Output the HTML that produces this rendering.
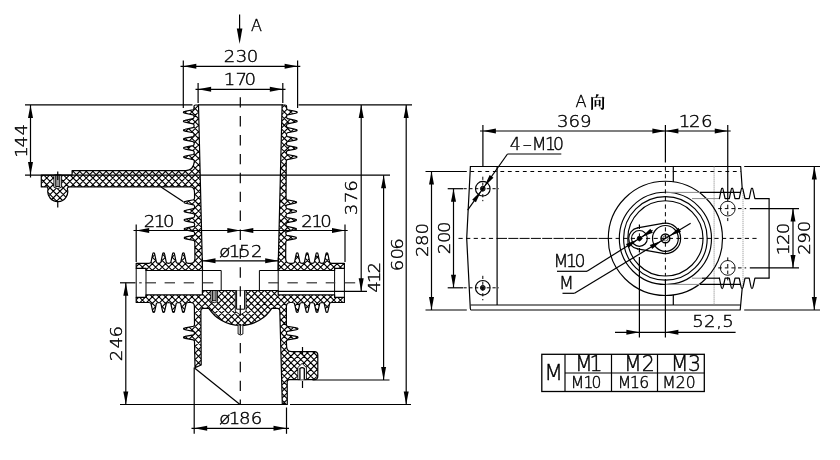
<!DOCTYPE html>
<html lang="zh">
<head>
<meta charset="utf-8">
<title>A向 - 230 / 170 / 606</title>
<style>
html,body{margin:0;padding:0;background:#fff;}
body{width:840px;height:460px;overflow:hidden;}
svg{display:block;will-change:transform;}
svg text{font-family:"DejaVu Sans","Liberation Sans","Noto Sans CJK SC",sans-serif;font-weight:200;fill:#000;stroke:#000;stroke-width:0.4px;}
svg .cjk{font-family:"Liberation Serif","Noto Serif CJK SC","Noto Sans CJK SC",serif;font-weight:700;stroke:none;}
</style>
</head>
<body>
<svg width="840" height="460" viewBox="0 0 840 460">
<rect x="0" y="0" width="840" height="460" fill="#fff"/>
<defs>
<clipPath id="cp0"><path d="M198.5,105 L202.52,270.5 L146,270.5 L146,268.3 L136.2,268.3 L136.2,263.3 L148.75,263.3 Q150.5,263.2 151,262.3 L152.6,254.5 Q152.71,252.9 153.7,252.9 Q154.69,252.9 154.8,254.5 L156.4,262.3 Q156.9,263.2 158.65,263.3 L158.65,263.3 Q160.4,263.2 160.9,262.3 L162.5,254.5 Q162.61,252.9 163.6,252.9 Q164.59,252.9 164.7,254.5 L166.3,262.3 Q166.8,263.2 168.55,263.3 L168.55,263.3 Q170.3,263.2 170.8,262.3 L172.4,254.5 Q172.51,252.9 173.5,252.9 Q174.49,252.9 174.6,254.5 L176.2,262.3 Q176.7,263.2 178.45,263.3 L178.45,263.3 Q180.2,263.2 180.7,262.3 L182.3,254.5 Q182.41,252.9 183.4,252.9 Q184.39,252.9 184.5,254.5 L186.1,262.3 Q186.6,263.2 188.35,263.3 L190.5,263.3 Q194.93,263.3 194.92,258.5 L194.82,242.4 Q194.72,240.95 193.81,240.45 L185.8,238.85 Q184.2,238.75 184.2,237.9 Q184.19,237.05 185.79,236.95 L193.78,235.35 Q194.68,234.85 194.77,233.4 L194.77,233.5 Q194.66,232.05 193.76,231.55 L185.75,229.95 Q184.15,229.85 184.14,229 Q184.14,228.15 185.74,228.05 L193.73,226.45 Q194.63,225.95 194.72,224.5 L194.72,224.6 Q194.61,223.15 193.71,222.65 L185.7,221.05 Q184.1,220.95 184.09,220.1 Q184.09,219.25 185.68,219.15 L193.68,217.55 Q194.57,217.05 194.66,215.6 L194.66,215.7 Q194.56,214.25 193.65,213.75 L185.64,212.15 Q184.04,212.05 184.04,211.2 Q184.03,210.34 185.63,210.25 L193.62,208.65 Q194.52,208.15 194.61,206.7 L194.61,206.8 Q194.5,205.35 193.6,204.85 L185.59,203.25 Q183.99,203.16 183.98,202.3 Q183.98,201.45 185.58,201.35 L193.57,199.75 Q194.47,199.25 194.56,197.8 L194.54,193 Q194.51,186.9 190.8,186.9 L69.5,186.9 Q67.6,186.9 67.3,188.6 A10,10 0 1 1 48,189.4 L47.5,186.9 L41.3,186.9 L41.3,175.1 L72.1,175.1 L72.1,170.6 L186,170.6 Q193.4,170.2 194.34,161.6 L194.34,161.55 Q194.23,160.1 193.33,159.6 L185.22,158 Q183.62,157.91 183.61,157.05 Q183.61,156.2 185.21,156.1 L193.3,154.5 Q194.19,154 194.29,152.55 L194.29,152.6 Q194.18,151.15 193.27,150.65 L185.16,149.05 Q183.56,148.95 183.56,148.1 Q183.55,147.25 185.15,147.15 L193.24,145.55 Q194.14,145.05 194.23,143.6 L194.23,143.65 Q194.12,142.2 193.22,141.7 L185.11,140.1 Q183.51,140 183.5,139.15 Q183.5,138.3 185.1,138.2 L193.19,136.6 Q194.09,136.1 194.18,134.65 L194.18,134.7 Q194.07,133.25 193.17,132.75 L185.06,131.15 Q183.46,131.05 183.45,130.2 Q183.45,129.34 185.05,129.25 L193.14,127.65 Q194.03,127.15 194.12,125.7 L194.12,125.75 Q194.02,124.3 193.11,123.8 L185,122.2 Q183.4,122.11 183.4,121.25 Q183.39,120.39 184.99,120.3 L193.08,118.7 Q193.98,118.2 194.07,116.75 L194.07,116.8 Q193.96,115.35 193.06,114.85 L184.95,113.25 Q183.35,113.16 183.34,112.3 Q183.34,111.44 184.94,111.35 L193.03,109.75 Q193.93,109.25 194.02,107.8 L194.01,106.8 Q194,105 195.6,105 Z"/></clipPath>
<clipPath id="cp1"><path d="M282.1,105 L278.08,270.5 L334.6,270.5 L334.6,268.3 L344.4,268.3 L344.4,263.3 L331.85,263.3 Q330.1,263.2 329.6,262.3 L328,254.5 Q327.89,252.9 326.9,252.9 Q325.91,252.9 325.8,254.5 L324.2,262.3 Q323.7,263.2 321.95,263.3 L321.95,263.3 Q320.2,263.2 319.7,262.3 L318.1,254.5 Q317.99,252.9 317,252.9 Q316.01,252.9 315.9,254.5 L314.3,262.3 Q313.8,263.2 312.05,263.3 L312.05,263.3 Q310.3,263.2 309.8,262.3 L308.2,254.5 Q308.09,252.9 307.1,252.9 Q306.11,252.9 306,254.5 L304.4,262.3 Q303.9,263.2 302.15,263.3 L302.15,263.3 Q300.4,263.2 299.9,262.3 L298.3,254.5 Q298.19,252.9 297.2,252.9 Q296.21,252.9 296.1,254.5 L294.5,262.3 Q294,263.2 292.25,263.3 L290.1,263.3 Q285.67,263.3 285.68,258.5 L285.78,242.4 Q285.88,240.95 286.79,240.45 L294.8,238.85 Q296.4,238.75 296.4,237.9 Q296.41,237.05 294.81,236.95 L286.82,235.35 Q285.92,234.85 285.83,233.4 L285.83,233.5 Q285.94,232.05 286.84,231.55 L294.85,229.95 Q296.45,229.85 296.46,229 Q296.46,228.15 294.86,228.05 L286.87,226.45 Q285.97,225.95 285.88,224.5 L285.88,224.6 Q285.99,223.15 286.89,222.65 L294.9,221.05 Q296.5,220.95 296.51,220.1 Q296.51,219.25 294.92,219.15 L286.92,217.55 Q286.03,217.05 285.94,215.6 L285.94,215.7 Q286.04,214.25 286.95,213.75 L294.96,212.15 Q296.56,212.05 296.56,211.2 Q296.57,210.34 294.97,210.25 L286.98,208.65 Q286.08,208.15 285.99,206.7 L285.99,206.8 Q286.1,205.35 287,204.85 L295.01,203.25 Q296.61,203.16 296.62,202.3 Q296.62,201.45 295.02,201.35 L287.03,199.75 Q286.13,199.25 286.04,197.8 L286.15,180 L286.26,161.6 L286.26,161.55 Q286.37,160.1 287.27,159.6 L295.38,158 Q296.98,157.91 296.99,157.05 Q296.99,156.2 295.39,156.1 L287.3,154.5 Q286.41,154 286.31,152.55 L286.31,152.6 Q286.42,151.15 287.33,150.65 L295.44,149.05 Q297.04,148.95 297.04,148.1 Q297.05,147.25 295.45,147.15 L287.36,145.55 Q286.46,145.05 286.37,143.6 L286.37,143.65 Q286.48,142.2 287.38,141.7 L295.49,140.1 Q297.09,140 297.1,139.15 Q297.1,138.3 295.5,138.2 L287.41,136.6 Q286.51,136.1 286.42,134.65 L286.42,134.7 Q286.53,133.25 287.43,132.75 L295.54,131.15 Q297.14,131.05 297.15,130.2 Q297.15,129.34 295.55,129.25 L287.46,127.65 Q286.57,127.15 286.48,125.7 L286.48,125.75 Q286.58,124.3 287.49,123.8 L295.6,122.2 Q297.2,122.11 297.2,121.25 Q297.21,120.39 295.61,120.3 L287.52,118.7 Q286.62,118.2 286.53,116.75 L286.53,116.8 Q286.64,115.35 287.54,114.85 L295.65,113.25 Q297.25,113.16 297.26,112.3 Q297.26,111.44 295.66,111.35 L287.57,109.75 Q286.67,109.25 286.58,107.8 L286.59,106.8 Q286.6,105 285,105 Z"/></clipPath>
<clipPath id="cp2"><path d="M136.2,302.5 L136.2,297.4 L146,297.4 L146,294.9 L202.4,294.9 L202.4,290.5 L278.2,290.5 L278.2,294.9 L334.6,294.9 L334.6,297.4 L344.4,297.4 L344.4,302.5 L331.85,302.5 Q330.1,302.6 329.6,303.5 L328,310.9 Q327.89,312.5 326.9,312.5 Q325.91,312.5 325.8,310.9 L324.2,303.5 Q323.7,302.6 321.95,302.5 L321.95,302.5 Q320.2,302.6 319.7,303.5 L318.1,310.9 Q317.99,312.5 317,312.5 Q316.01,312.5 315.9,310.9 L314.3,303.5 Q313.8,302.6 312.05,302.5 L312.05,302.5 Q310.3,302.6 309.8,303.5 L308.2,310.9 Q308.09,312.5 307.1,312.5 Q306.11,312.5 306,310.9 L304.4,303.5 Q303.9,302.6 302.15,302.5 L302.15,302.5 Q300.4,302.6 299.9,303.5 L298.3,310.9 Q298.19,312.5 297.2,312.5 Q296.21,312.5 296.1,310.9 L294.5,303.5 Q294,302.6 292.25,302.5 L290.5,302.5 Q286.4,302.5 286.4,306.5 L286.4,324.5 Q286.5,325.75 287.4,326.25 L296.4,327.85 Q298,327.94 298,328.8 Q298,329.66 296.4,329.75 L287.4,331.35 Q286.5,331.85 286.4,333.1 L286.4,333.1 Q286.5,334.35 287.4,334.85 L296.4,336.45 Q298,336.54 298,337.4 Q298,338.25 296.4,338.35 L287.4,339.95 Q286.5,340.45 286.4,341.7 L286.6,346.5 Q286.8,351.6 291.8,351.6 L314.3,351.6 Q317.8,351.6 317.8,355.1 L317.8,376.2 Q317.8,379.6 314.3,379.6 L289.5,379.6 Q287.2,379.7 287.2,382 L287.3,404.5 L282.3,404.5 L279.8,310.8 Q279.7,308.4 277.5,308.4 L271.8,308.3 A37.5,37.5 0 0 1 208.8,308.3 L203.1,308.4 Q200.9,308.4 200.9,310.8 L201.2,365 L195,367.6 L194.5,341.7 Q194.4,340.45 193.5,339.95 L185.1,338.35 Q183.5,338.25 183.5,337.4 Q183.5,336.54 185.1,336.45 L193.5,334.85 Q194.4,334.35 194.5,333.1 L194.5,333.1 Q194.4,331.85 193.5,331.35 L185.1,329.75 Q183.5,329.66 183.5,328.8 Q183.5,327.94 185.1,327.85 L193.5,326.25 Q194.4,325.75 194.5,324.5 L194.4,306.5 Q194.4,302.5 190.5,302.5 L188.35,302.5 Q186.6,302.6 186.1,303.5 L184.5,310.9 Q184.39,312.5 183.4,312.5 Q182.41,312.5 182.3,310.9 L180.7,303.5 Q180.2,302.6 178.45,302.5 L178.45,302.5 Q176.7,302.6 176.2,303.5 L174.6,310.9 Q174.49,312.5 173.5,312.5 Q172.51,312.5 172.4,310.9 L170.8,303.5 Q170.3,302.6 168.55,302.5 L168.55,302.5 Q166.8,302.6 166.3,303.5 L164.7,310.9 Q164.59,312.5 163.6,312.5 Q162.61,312.5 162.5,310.9 L160.9,303.5 Q160.4,302.6 158.65,302.5 L158.65,302.5 Q156.9,302.6 156.4,303.5 L154.8,310.9 Q154.69,312.5 153.7,312.5 Q152.71,312.5 152.6,310.9 L151,303.5 Q150.5,302.6 148.75,302.5 L136.2,302.5 Z"/></clipPath>
</defs>
<g id="section">
<path d="M38,-81.5 L206,86.5 M38,-74.9 L206,93.1 M38,-68.3 L206,99.7 M38,-61.7 L206,106.3 M38,-55.1 L206,112.9 M38,-48.5 L206,119.5 M38,-41.9 L206,126.1 M38,-35.3 L206,132.7 M38,-28.7 L206,139.3 M38,-22.1 L206,145.9 M38,-15.5 L206,152.5 M38,-8.9 L206,159.1 M38,-2.3 L206,165.7 M38,4.3 L206,172.3 M38,10.9 L206,178.9 M38,17.5 L206,185.5 M38,24.1 L206,192.1 M38,30.7 L206,198.7 M38,37.3 L206,205.3 M38,43.9 L206,211.9 M38,50.5 L206,218.5 M38,57.1 L206,225.1 M38,63.7 L206,231.7 M38,70.3 L206,238.3 M38,76.9 L206,244.9 M38,83.5 L206,251.5 M38,90.1 L206,258.1 M38,96.7 L206,264.7 M38,103.3 L206,271.3 M38,109.9 L206,277.9 M38,116.5 L206,284.5 M38,123.1 L206,291.1 M38,129.7 L206,297.7 M38,136.3 L206,304.3 M38,142.9 L206,310.9 M38,149.5 L206,317.5 M38,156.1 L206,324.1 M38,162.7 L206,330.7 M38,169.3 L206,337.3 M38,175.9 L206,343.9 M38,182.5 L206,350.5 M38,189.1 L206,357.1 M38,195.7 L206,363.7 M38,202.3 L206,370.3 M38,208.9 L206,376.9 M38,215.5 L206,383.5 M38,222.1 L206,390.1 M38,228.7 L206,396.7 M38,235.3 L206,403.3 M38,241.9 L206,409.9 M38,248.5 L206,416.5 M38,255.1 L206,423.1 M38,261.7 L206,429.7 M38,268.3 L206,436.3 M38,274.9 L206,442.9 M38,281.5 L206,449.5 M38,87.7 L206,-80.3 M38,94.3 L206,-73.7 M38,100.9 L206,-67.1 M38,107.5 L206,-60.5 M38,114.1 L206,-53.9 M38,120.7 L206,-47.3 M38,127.3 L206,-40.7 M38,133.9 L206,-34.1 M38,140.5 L206,-27.5 M38,147.1 L206,-20.9 M38,153.7 L206,-14.3 M38,160.3 L206,-7.7 M38,166.9 L206,-1.1 M38,173.5 L206,5.5 M38,180.1 L206,12.1 M38,186.7 L206,18.7 M38,193.3 L206,25.3 M38,199.9 L206,31.9 M38,206.5 L206,38.5 M38,213.1 L206,45.1 M38,219.7 L206,51.7 M38,226.3 L206,58.3 M38,232.9 L206,64.9 M38,239.5 L206,71.5 M38,246.1 L206,78.1 M38,252.7 L206,84.7 M38,259.3 L206,91.3 M38,265.9 L206,97.9 M38,272.5 L206,104.5 M38,279.1 L206,111.1 M38,285.7 L206,117.7 M38,292.3 L206,124.3 M38,298.9 L206,130.9 M38,305.5 L206,137.5 M38,312.1 L206,144.1 M38,318.7 L206,150.7 M38,325.3 L206,157.3 M38,331.9 L206,163.9 M38,338.5 L206,170.5 M38,345.1 L206,177.1 M38,351.7 L206,183.7 M38,358.3 L206,190.3 M38,364.9 L206,196.9 M38,371.5 L206,203.5 M38,378.1 L206,210.1 M38,384.7 L206,216.7 M38,391.3 L206,223.3 M38,397.9 L206,229.9 M38,404.5 L206,236.5 M38,411.1 L206,243.1 M38,417.7 L206,249.7 M38,424.3 L206,256.3 M38,430.9 L206,262.9 M38,437.5 L206,269.5 M38,444.1 L206,276.1 M38,450.7 L206,282.7" clip-path="url(#cp0)" fill="none" stroke="#000" stroke-width="1.1"/>
<path d="M198.5,105 L202.52,270.5 L146,270.5 L146,268.3 L136.2,268.3 L136.2,263.3 L148.75,263.3 Q150.5,263.2 151,262.3 L152.6,254.5 Q152.71,252.9 153.7,252.9 Q154.69,252.9 154.8,254.5 L156.4,262.3 Q156.9,263.2 158.65,263.3 L158.65,263.3 Q160.4,263.2 160.9,262.3 L162.5,254.5 Q162.61,252.9 163.6,252.9 Q164.59,252.9 164.7,254.5 L166.3,262.3 Q166.8,263.2 168.55,263.3 L168.55,263.3 Q170.3,263.2 170.8,262.3 L172.4,254.5 Q172.51,252.9 173.5,252.9 Q174.49,252.9 174.6,254.5 L176.2,262.3 Q176.7,263.2 178.45,263.3 L178.45,263.3 Q180.2,263.2 180.7,262.3 L182.3,254.5 Q182.41,252.9 183.4,252.9 Q184.39,252.9 184.5,254.5 L186.1,262.3 Q186.6,263.2 188.35,263.3 L190.5,263.3 Q194.93,263.3 194.92,258.5 L194.82,242.4 Q194.72,240.95 193.81,240.45 L185.8,238.85 Q184.2,238.75 184.2,237.9 Q184.19,237.05 185.79,236.95 L193.78,235.35 Q194.68,234.85 194.77,233.4 L194.77,233.5 Q194.66,232.05 193.76,231.55 L185.75,229.95 Q184.15,229.85 184.14,229 Q184.14,228.15 185.74,228.05 L193.73,226.45 Q194.63,225.95 194.72,224.5 L194.72,224.6 Q194.61,223.15 193.71,222.65 L185.7,221.05 Q184.1,220.95 184.09,220.1 Q184.09,219.25 185.68,219.15 L193.68,217.55 Q194.57,217.05 194.66,215.6 L194.66,215.7 Q194.56,214.25 193.65,213.75 L185.64,212.15 Q184.04,212.05 184.04,211.2 Q184.03,210.34 185.63,210.25 L193.62,208.65 Q194.52,208.15 194.61,206.7 L194.61,206.8 Q194.5,205.35 193.6,204.85 L185.59,203.25 Q183.99,203.16 183.98,202.3 Q183.98,201.45 185.58,201.35 L193.57,199.75 Q194.47,199.25 194.56,197.8 L194.54,193 Q194.51,186.9 190.8,186.9 L69.5,186.9 Q67.6,186.9 67.3,188.6 A10,10 0 1 1 48,189.4 L47.5,186.9 L41.3,186.9 L41.3,175.1 L72.1,175.1 L72.1,170.6 L186,170.6 Q193.4,170.2 194.34,161.6 L194.34,161.55 Q194.23,160.1 193.33,159.6 L185.22,158 Q183.62,157.91 183.61,157.05 Q183.61,156.2 185.21,156.1 L193.3,154.5 Q194.19,154 194.29,152.55 L194.29,152.6 Q194.18,151.15 193.27,150.65 L185.16,149.05 Q183.56,148.95 183.56,148.1 Q183.55,147.25 185.15,147.15 L193.24,145.55 Q194.14,145.05 194.23,143.6 L194.23,143.65 Q194.12,142.2 193.22,141.7 L185.11,140.1 Q183.51,140 183.5,139.15 Q183.5,138.3 185.1,138.2 L193.19,136.6 Q194.09,136.1 194.18,134.65 L194.18,134.7 Q194.07,133.25 193.17,132.75 L185.06,131.15 Q183.46,131.05 183.45,130.2 Q183.45,129.34 185.05,129.25 L193.14,127.65 Q194.03,127.15 194.12,125.7 L194.12,125.75 Q194.02,124.3 193.11,123.8 L185,122.2 Q183.4,122.11 183.4,121.25 Q183.39,120.39 184.99,120.3 L193.08,118.7 Q193.98,118.2 194.07,116.75 L194.07,116.8 Q193.96,115.35 193.06,114.85 L184.95,113.25 Q183.35,113.16 183.34,112.3 Q183.34,111.44 184.94,111.35 L193.03,109.75 Q193.93,109.25 194.02,107.8 L194.01,106.8 Q194,105 195.6,105 Z" fill="none" stroke="#000" stroke-width="1.2" stroke-linejoin="round"/>
<path d="M274,15.9 L348,89.9 M274,22.5 L348,96.5 M274,29.1 L348,103.1 M274,35.7 L348,109.7 M274,42.3 L348,116.3 M274,48.9 L348,122.9 M274,55.5 L348,129.5 M274,62.1 L348,136.1 M274,68.7 L348,142.7 M274,75.3 L348,149.3 M274,81.9 L348,155.9 M274,88.5 L348,162.5 M274,95.1 L348,169.1 M274,101.7 L348,175.7 M274,108.3 L348,182.3 M274,114.9 L348,188.9 M274,121.5 L348,195.5 M274,128.1 L348,202.1 M274,134.7 L348,208.7 M274,141.3 L348,215.3 M274,147.9 L348,221.9 M274,154.5 L348,228.5 M274,161.1 L348,235.1 M274,167.7 L348,241.7 M274,174.3 L348,248.3 M274,180.9 L348,254.9 M274,187.5 L348,261.5 M274,194.1 L348,268.1 M274,200.7 L348,274.7 M274,207.3 L348,281.3 M274,213.9 L348,287.9 M274,220.5 L348,294.5 M274,227.1 L348,301.1 M274,233.7 L348,307.7 M274,240.3 L348,314.3 M274,246.9 L348,320.9 M274,253.5 L348,327.5 M274,260.1 L348,334.1 M274,266.7 L348,340.7 M274,273.3 L348,347.3 M274,279.9 L348,353.9 M274,286.5 L348,360.5 M274,89.3 L348,15.3 M274,95.9 L348,21.9 M274,102.5 L348,28.5 M274,109.1 L348,35.1 M274,115.7 L348,41.7 M274,122.3 L348,48.3 M274,128.9 L348,54.9 M274,135.5 L348,61.5 M274,142.1 L348,68.1 M274,148.7 L348,74.7 M274,155.3 L348,81.3 M274,161.9 L348,87.9 M274,168.5 L348,94.5 M274,175.1 L348,101.1 M274,181.7 L348,107.7 M274,188.3 L348,114.3 M274,194.9 L348,120.9 M274,201.5 L348,127.5 M274,208.1 L348,134.1 M274,214.7 L348,140.7 M274,221.3 L348,147.3 M274,227.9 L348,153.9 M274,234.5 L348,160.5 M274,241.1 L348,167.1 M274,247.7 L348,173.7 M274,254.3 L348,180.3 M274,260.9 L348,186.9 M274,267.5 L348,193.5 M274,274.1 L348,200.1 M274,280.7 L348,206.7 M274,287.3 L348,213.3 M274,293.9 L348,219.9 M274,300.5 L348,226.5 M274,307.1 L348,233.1 M274,313.7 L348,239.7 M274,320.3 L348,246.3 M274,326.9 L348,252.9 M274,333.5 L348,259.5 M274,340.1 L348,266.1 M274,346.7 L348,272.7 M274,353.3 L348,279.3 M274,359.9 L348,285.9" clip-path="url(#cp1)" fill="none" stroke="#000" stroke-width="1.1"/>
<path d="M282.1,105 L278.08,270.5 L334.6,270.5 L334.6,268.3 L344.4,268.3 L344.4,263.3 L331.85,263.3 Q330.1,263.2 329.6,262.3 L328,254.5 Q327.89,252.9 326.9,252.9 Q325.91,252.9 325.8,254.5 L324.2,262.3 Q323.7,263.2 321.95,263.3 L321.95,263.3 Q320.2,263.2 319.7,262.3 L318.1,254.5 Q317.99,252.9 317,252.9 Q316.01,252.9 315.9,254.5 L314.3,262.3 Q313.8,263.2 312.05,263.3 L312.05,263.3 Q310.3,263.2 309.8,262.3 L308.2,254.5 Q308.09,252.9 307.1,252.9 Q306.11,252.9 306,254.5 L304.4,262.3 Q303.9,263.2 302.15,263.3 L302.15,263.3 Q300.4,263.2 299.9,262.3 L298.3,254.5 Q298.19,252.9 297.2,252.9 Q296.21,252.9 296.1,254.5 L294.5,262.3 Q294,263.2 292.25,263.3 L290.1,263.3 Q285.67,263.3 285.68,258.5 L285.78,242.4 Q285.88,240.95 286.79,240.45 L294.8,238.85 Q296.4,238.75 296.4,237.9 Q296.41,237.05 294.81,236.95 L286.82,235.35 Q285.92,234.85 285.83,233.4 L285.83,233.5 Q285.94,232.05 286.84,231.55 L294.85,229.95 Q296.45,229.85 296.46,229 Q296.46,228.15 294.86,228.05 L286.87,226.45 Q285.97,225.95 285.88,224.5 L285.88,224.6 Q285.99,223.15 286.89,222.65 L294.9,221.05 Q296.5,220.95 296.51,220.1 Q296.51,219.25 294.92,219.15 L286.92,217.55 Q286.03,217.05 285.94,215.6 L285.94,215.7 Q286.04,214.25 286.95,213.75 L294.96,212.15 Q296.56,212.05 296.56,211.2 Q296.57,210.34 294.97,210.25 L286.98,208.65 Q286.08,208.15 285.99,206.7 L285.99,206.8 Q286.1,205.35 287,204.85 L295.01,203.25 Q296.61,203.16 296.62,202.3 Q296.62,201.45 295.02,201.35 L287.03,199.75 Q286.13,199.25 286.04,197.8 L286.15,180 L286.26,161.6 L286.26,161.55 Q286.37,160.1 287.27,159.6 L295.38,158 Q296.98,157.91 296.99,157.05 Q296.99,156.2 295.39,156.1 L287.3,154.5 Q286.41,154 286.31,152.55 L286.31,152.6 Q286.42,151.15 287.33,150.65 L295.44,149.05 Q297.04,148.95 297.04,148.1 Q297.05,147.25 295.45,147.15 L287.36,145.55 Q286.46,145.05 286.37,143.6 L286.37,143.65 Q286.48,142.2 287.38,141.7 L295.49,140.1 Q297.09,140 297.1,139.15 Q297.1,138.3 295.5,138.2 L287.41,136.6 Q286.51,136.1 286.42,134.65 L286.42,134.7 Q286.53,133.25 287.43,132.75 L295.54,131.15 Q297.14,131.05 297.15,130.2 Q297.15,129.34 295.55,129.25 L287.46,127.65 Q286.57,127.15 286.48,125.7 L286.48,125.75 Q286.58,124.3 287.49,123.8 L295.6,122.2 Q297.2,122.11 297.2,121.25 Q297.21,120.39 295.61,120.3 L287.52,118.7 Q286.62,118.2 286.53,116.75 L286.53,116.8 Q286.64,115.35 287.54,114.85 L295.65,113.25 Q297.25,113.16 297.26,112.3 Q297.26,111.44 295.66,111.35 L287.57,109.75 Q286.67,109.25 286.58,107.8 L286.59,106.8 Q286.6,105 285,105 Z" fill="none" stroke="#000" stroke-width="1.2" stroke-linejoin="round"/>
<path d="M133,59.7 L348,274.7 M133,66.3 L348,281.3 M133,72.9 L348,287.9 M133,79.5 L348,294.5 M133,86.1 L348,301.1 M133,92.7 L348,307.7 M133,99.3 L348,314.3 M133,105.9 L348,320.9 M133,112.5 L348,327.5 M133,119.1 L348,334.1 M133,125.7 L348,340.7 M133,132.3 L348,347.3 M133,138.9 L348,353.9 M133,145.5 L348,360.5 M133,152.1 L348,367.1 M133,158.7 L348,373.7 M133,165.3 L348,380.3 M133,171.9 L348,386.9 M133,178.5 L348,393.5 M133,185.1 L348,400.1 M133,191.7 L348,406.7 M133,198.3 L348,413.3 M133,204.9 L348,419.9 M133,211.5 L348,426.5 M133,218.1 L348,433.1 M133,224.7 L348,439.7 M133,231.3 L348,446.3 M133,237.9 L348,452.9 M133,244.5 L348,459.5 M133,251.1 L348,466.1 M133,257.7 L348,472.7 M133,264.3 L348,479.3 M133,270.9 L348,485.9 M133,277.5 L348,492.5 M133,284.1 L348,499.1 M133,290.7 L348,505.7 M133,297.3 L348,512.3 M133,303.9 L348,518.9 M133,310.5 L348,525.5 M133,317.1 L348,532.1 M133,323.7 L348,538.7 M133,330.3 L348,545.3 M133,336.9 L348,551.9 M133,343.5 L348,558.5 M133,350.1 L348,565.1 M133,356.7 L348,571.7 M133,363.3 L348,578.3 M133,369.9 L348,584.9 M133,376.5 L348,591.5 M133,383.1 L348,598.1 M133,389.7 L348,604.7 M133,396.3 L348,611.3 M133,402.9 L348,617.9 M133,409.5 L348,624.5 M133,416.1 L348,631.1 M133,276.5 L348,61.5 M133,283.1 L348,68.1 M133,289.7 L348,74.7 M133,296.3 L348,81.3 M133,302.9 L348,87.9 M133,309.5 L348,94.5 M133,316.1 L348,101.1 M133,322.7 L348,107.7 M133,329.3 L348,114.3 M133,335.9 L348,120.9 M133,342.5 L348,127.5 M133,349.1 L348,134.1 M133,355.7 L348,140.7 M133,362.3 L348,147.3 M133,368.9 L348,153.9 M133,375.5 L348,160.5 M133,382.1 L348,167.1 M133,388.7 L348,173.7 M133,395.3 L348,180.3 M133,401.9 L348,186.9 M133,408.5 L348,193.5 M133,415.1 L348,200.1 M133,421.7 L348,206.7 M133,428.3 L348,213.3 M133,434.9 L348,219.9 M133,441.5 L348,226.5 M133,448.1 L348,233.1 M133,454.7 L348,239.7 M133,461.3 L348,246.3 M133,467.9 L348,252.9 M133,474.5 L348,259.5 M133,481.1 L348,266.1 M133,487.7 L348,272.7 M133,494.3 L348,279.3 M133,500.9 L348,285.9 M133,507.5 L348,292.5 M133,514.1 L348,299.1 M133,520.7 L348,305.7 M133,527.3 L348,312.3 M133,533.9 L348,318.9 M133,540.5 L348,325.5 M133,547.1 L348,332.1 M133,553.7 L348,338.7 M133,560.3 L348,345.3 M133,566.9 L348,351.9 M133,573.5 L348,358.5 M133,580.1 L348,365.1 M133,586.7 L348,371.7 M133,593.3 L348,378.3 M133,599.9 L348,384.9 M133,606.5 L348,391.5 M133,613.1 L348,398.1 M133,619.7 L348,404.7 M133,626.3 L348,411.3 M133,632.9 L348,417.9" clip-path="url(#cp2)" fill="none" stroke="#000" stroke-width="1.1"/>
<path d="M136.2,302.5 L136.2,297.4 L146,297.4 L146,294.9 L202.4,294.9 L202.4,290.5 L278.2,290.5 L278.2,294.9 L334.6,294.9 L334.6,297.4 L344.4,297.4 L344.4,302.5 L331.85,302.5 Q330.1,302.6 329.6,303.5 L328,310.9 Q327.89,312.5 326.9,312.5 Q325.91,312.5 325.8,310.9 L324.2,303.5 Q323.7,302.6 321.95,302.5 L321.95,302.5 Q320.2,302.6 319.7,303.5 L318.1,310.9 Q317.99,312.5 317,312.5 Q316.01,312.5 315.9,310.9 L314.3,303.5 Q313.8,302.6 312.05,302.5 L312.05,302.5 Q310.3,302.6 309.8,303.5 L308.2,310.9 Q308.09,312.5 307.1,312.5 Q306.11,312.5 306,310.9 L304.4,303.5 Q303.9,302.6 302.15,302.5 L302.15,302.5 Q300.4,302.6 299.9,303.5 L298.3,310.9 Q298.19,312.5 297.2,312.5 Q296.21,312.5 296.1,310.9 L294.5,303.5 Q294,302.6 292.25,302.5 L290.5,302.5 Q286.4,302.5 286.4,306.5 L286.4,324.5 Q286.5,325.75 287.4,326.25 L296.4,327.85 Q298,327.94 298,328.8 Q298,329.66 296.4,329.75 L287.4,331.35 Q286.5,331.85 286.4,333.1 L286.4,333.1 Q286.5,334.35 287.4,334.85 L296.4,336.45 Q298,336.54 298,337.4 Q298,338.25 296.4,338.35 L287.4,339.95 Q286.5,340.45 286.4,341.7 L286.6,346.5 Q286.8,351.6 291.8,351.6 L314.3,351.6 Q317.8,351.6 317.8,355.1 L317.8,376.2 Q317.8,379.6 314.3,379.6 L289.5,379.6 Q287.2,379.7 287.2,382 L287.3,404.5 L282.3,404.5 L279.8,310.8 Q279.7,308.4 277.5,308.4 L271.8,308.3 A37.5,37.5 0 0 1 208.8,308.3 L203.1,308.4 Q200.9,308.4 200.9,310.8 L201.2,365 L195,367.6 L194.5,341.7 Q194.4,340.45 193.5,339.95 L185.1,338.35 Q183.5,338.25 183.5,337.4 Q183.5,336.54 185.1,336.45 L193.5,334.85 Q194.4,334.35 194.5,333.1 L194.5,333.1 Q194.4,331.85 193.5,331.35 L185.1,329.75 Q183.5,329.66 183.5,328.8 Q183.5,327.94 185.1,327.85 L193.5,326.25 Q194.4,325.75 194.5,324.5 L194.4,306.5 Q194.4,302.5 190.5,302.5 L188.35,302.5 Q186.6,302.6 186.1,303.5 L184.5,310.9 Q184.39,312.5 183.4,312.5 Q182.41,312.5 182.3,310.9 L180.7,303.5 Q180.2,302.6 178.45,302.5 L178.45,302.5 Q176.7,302.6 176.2,303.5 L174.6,310.9 Q174.49,312.5 173.5,312.5 Q172.51,312.5 172.4,310.9 L170.8,303.5 Q170.3,302.6 168.55,302.5 L168.55,302.5 Q166.8,302.6 166.3,303.5 L164.7,310.9 Q164.59,312.5 163.6,312.5 Q162.61,312.5 162.5,310.9 L160.9,303.5 Q160.4,302.6 158.65,302.5 L158.65,302.5 Q156.9,302.6 156.4,303.5 L154.8,310.9 Q154.69,312.5 153.7,312.5 Q152.71,312.5 152.6,310.9 L151,303.5 Q150.5,302.6 148.75,302.5 L136.2,302.5 Z" fill="none" stroke="#000" stroke-width="1.2" stroke-linejoin="round"/>
</g>
<path d="M53.9,175.1 L53.9,187.2 Q57.75,189.9 61.6,187.2 L61.6,175.1 Z" fill="#fff" stroke="#000" stroke-width="0.9"/>
<rect x="55.7" y="175.1" width="4.1" height="11.4" fill="#999" stroke="#000" stroke-width="0.9"/>
<path d="M210.9,290.5 L210.9,301.4 Q214.25,304.1 217.6,301.4 L217.6,290.5 Z" fill="#fff" stroke="#000" stroke-width="0.9"/>
<rect x="212.4" y="290.5" width="3.7" height="10.2" fill="#999" stroke="#000" stroke-width="0.9"/>
<path d="M297.8,379.6 L297.8,367.5 L302.1,363.4 L306.4,367.5 L306.4,379.6 Z" fill="#fff" stroke="#000" stroke-width="0.9"/>
<path d="M299.9,379.6 L299.9,368.6 Q302.1,366.6 304.3,368.6 L304.3,379.6" fill="#fff" stroke="#000" stroke-width="1.3"/>
<path d="M235.3,290.5 L235.3,311.3 L240.3,315 L246,311.3 L246,290.5 Z" fill="#fff" stroke="#000" stroke-width="0.9"/>
<path d="M236.6,290.5 L236.6,309.2 L244.6,309.2 L244.6,290.5" fill="#fff" stroke="#000" stroke-width="1"/>
<path d="M238.1,325.6 L238.1,334 Q240.5,336 242.9,334 L242.9,325.6" fill="#fff" stroke="#000" stroke-width="0.9"/>
<path d="M202.4,270.5 L221.2,270.5 L221.2,290.5" fill="none" stroke="#000" stroke-width="1" stroke-linejoin="round" stroke-linecap="round" />
<path d="M202.4,258 L202.4,290.5" fill="none" stroke="#000" stroke-width="1" stroke-linejoin="round" stroke-linecap="round" />
<path d="M278.2,270.5 L259.4,270.5 L259.4,290.5" fill="none" stroke="#000" stroke-width="1" stroke-linejoin="round" stroke-linecap="round" />
<path d="M278.2,258 L278.2,290.5" fill="none" stroke="#000" stroke-width="1" stroke-linejoin="round" stroke-linecap="round" />
<path d="M136.2,268.3 L136.2,297.4" fill="none" stroke="#000" stroke-width="1" stroke-linejoin="round" stroke-linecap="round" />
<path d="M146,268.3 L146,297.4" fill="none" stroke="#000" stroke-width="1" stroke-linejoin="round" stroke-linecap="round" />
<path d="M344.4,268.3 L344.4,297.4" fill="none" stroke="#000" stroke-width="1" stroke-linejoin="round" stroke-linecap="round" />
<path d="M334.6,268.3 L334.6,297.4" fill="none" stroke="#000" stroke-width="1" stroke-linejoin="round" stroke-linecap="round" />
<line x1="161" y1="187" x2="183.4" y2="201.8" stroke="#000" stroke-width="1.2"/>
<line x1="194.5" y1="368" x2="240" y2="404.5" stroke="#000" stroke-width="1.2"/>
<line x1="194.2" y1="367.5" x2="194.2" y2="433.8" stroke="#000" stroke-width="1.2"/>
<line x1="286.5" y1="407.5" x2="286.5" y2="433.8" stroke="#000" stroke-width="1.2"/>
<line x1="57.75" y1="171.4" x2="57.75" y2="180" stroke="#000" stroke-width="1.2"/>
<line x1="57.75" y1="201.8" x2="57.75" y2="207.6" stroke="#000" stroke-width="1.2"/>
<line x1="302.5" y1="347" x2="302.5" y2="355" stroke="#000" stroke-width="1.2"/>
<line x1="302.5" y1="381" x2="302.5" y2="388" stroke="#000" stroke-width="1.2"/>
<line x1="25" y1="104.8" x2="192.5" y2="104.8" stroke="#000" stroke-width="1.3"/>
<line x1="198" y1="104.8" x2="283" y2="104.8" stroke="#000" stroke-width="1.3"/>
<line x1="298.5" y1="104.8" x2="412" y2="104.8" stroke="#000" stroke-width="1.3"/>
<line x1="25" y1="175.05" x2="390" y2="175.05" stroke="#000" stroke-width="1.3"/>
<line x1="277.5" y1="291.3" x2="367" y2="291.3" stroke="#000" stroke-width="1.2"/>
<line x1="312.5" y1="380" x2="389.5" y2="380" stroke="#000" stroke-width="1.2"/>
<line x1="120" y1="404.5" x2="287.3" y2="404.5" stroke="#000" stroke-width="1.2"/>
<line x1="290" y1="404.5" x2="411" y2="404.5" stroke="#000" stroke-width="1.2"/>
<line x1="120" y1="282.8" x2="135.5" y2="282.8" stroke="#000" stroke-width="1.2"/>
<line x1="240.3" y1="97.2" x2="240.3" y2="107.6" stroke="#000" stroke-width="1.2"/>
<line x1="240.3" y1="116.1" x2="240.3" y2="126.5" stroke="#000" stroke-width="1.2"/>
<line x1="240.3" y1="135" x2="240.3" y2="145.4" stroke="#000" stroke-width="1.2"/>
<line x1="240.3" y1="153.9" x2="240.3" y2="164.3" stroke="#000" stroke-width="1.2"/>
<line x1="240.3" y1="172.8" x2="240.3" y2="183.2" stroke="#000" stroke-width="1.2"/>
<line x1="240.3" y1="191.7" x2="240.3" y2="202.1" stroke="#000" stroke-width="1.2"/>
<line x1="240.3" y1="210.6" x2="240.3" y2="221" stroke="#000" stroke-width="1.2"/>
<line x1="240.3" y1="229.5" x2="240.3" y2="239.9" stroke="#000" stroke-width="1.2"/>
<line x1="240.3" y1="248.4" x2="240.3" y2="258.8" stroke="#000" stroke-width="1.2"/>
<line x1="240.3" y1="267.3" x2="240.3" y2="277.7" stroke="#000" stroke-width="1.2"/>
<line x1="240.3" y1="286.2" x2="240.3" y2="296.6" stroke="#000" stroke-width="1.2"/>
<line x1="240.3" y1="305.1" x2="240.3" y2="315.5" stroke="#000" stroke-width="1.2"/>
<line x1="240.3" y1="324" x2="240.3" y2="334.4" stroke="#000" stroke-width="1.2"/>
<line x1="240.3" y1="342.9" x2="240.3" y2="353.3" stroke="#000" stroke-width="1.2"/>
<line x1="240.3" y1="361.8" x2="240.3" y2="372.2" stroke="#000" stroke-width="1.2"/>
<line x1="240.3" y1="380.7" x2="240.3" y2="391.1" stroke="#000" stroke-width="1.2"/>
<line x1="240.3" y1="399.6" x2="240.3" y2="405" stroke="#000" stroke-width="1.2"/>
<line x1="139.2" y1="282.8" x2="141.7" y2="282.8" stroke="#333" stroke-width="1.2"/>
<line x1="145.5" y1="282.8" x2="156" y2="282.8" stroke="#333" stroke-width="1.2"/>
<line x1="164.6" y1="282.8" x2="175" y2="282.8" stroke="#333" stroke-width="1.2"/>
<line x1="183.7" y1="282.8" x2="194.1" y2="282.8" stroke="#333" stroke-width="1.2"/>
<line x1="202.8" y1="282.8" x2="213.2" y2="282.8" stroke="#333" stroke-width="1.2"/>
<line x1="268.3" y1="282.8" x2="278.7" y2="282.8" stroke="#333" stroke-width="1.2"/>
<line x1="287.4" y1="282.8" x2="297.8" y2="282.8" stroke="#333" stroke-width="1.2"/>
<line x1="306.5" y1="282.8" x2="317" y2="282.8" stroke="#333" stroke-width="1.2"/>
<line x1="325.7" y1="282.8" x2="335.2" y2="282.8" stroke="#333" stroke-width="1.2"/>
<line x1="344.8" y1="282.8" x2="355.2" y2="282.8" stroke="#333" stroke-width="1.2"/>
<line x1="239.6" y1="14.5" x2="239.6" y2="32" stroke="#000" stroke-width="1.2"/>
<polygon points="239.6,44.1 236.8,28.5 242.4,28.5" fill="#000"/>
<text x="250.88" y="30.6" font-size="16">A</text>
<line x1="183.3" y1="60.5" x2="183.3" y2="108" stroke="#000" stroke-width="1.2"/>
<line x1="297.6" y1="60.5" x2="297.6" y2="108" stroke="#000" stroke-width="1.2"/>
<line x1="180.5" y1="66.3" x2="300.3" y2="66.3" stroke="#000" stroke-width="1.2"/>
<polygon points="183.3,66.3 196.3,63.8 196.3,68.8" fill="#000"/>
<polygon points="297.6,66.3 284.6,68.8 284.6,63.8" fill="#000"/>
<text x="203.51 214.41 224.26" y="62.4" font-size="16.5" transform="scale(1.1 1)">230</text>
<line x1="198.1" y1="83" x2="198.1" y2="103" stroke="#000" stroke-width="1.2"/>
<line x1="282.8" y1="83" x2="282.8" y2="103" stroke="#000" stroke-width="1.2"/>
<line x1="195.5" y1="89.3" x2="285.5" y2="89.3" stroke="#000" stroke-width="1.2"/>
<polygon points="198.1,89.3 211.1,86.8 211.1,91.8" fill="#000"/>
<polygon points="282.8,89.3 269.8,91.8 269.8,86.8" fill="#000"/>
<text x="203.53 214.15 222.35" y="85.5" font-size="16.5" transform="scale(1.1 1)">170</text>
<line x1="30.5" y1="105" x2="30.5" y2="177.5" stroke="#000" stroke-width="1.2"/>
<polygon points="30.5,105 33,118 28,118" fill="#000"/>
<polygon points="30.5,175.1 28,162.1 33,162.1" fill="#000"/>
<text x="-143.38 -134.03 -123.21" y="0" font-size="16.5" transform="translate(27.1 0) rotate(-90) scale(1.1 1)">144</text>
<line x1="136.2" y1="224.5" x2="136.2" y2="262" stroke="#000" stroke-width="1.2"/>
<line x1="345" y1="224.5" x2="345" y2="262" stroke="#000" stroke-width="1.2"/>
<line x1="133.5" y1="230.5" x2="347.7" y2="230.5" stroke="#000" stroke-width="1.2"/>
<polygon points="136.2,230.5 149.2,228 149.2,233" fill="#000"/>
<polygon points="240.3,230.5 227.3,233 227.3,228" fill="#000"/>
<polygon points="240.3,230.5 253.3,228 253.3,233" fill="#000"/>
<polygon points="345,230.5 332,233 332,228" fill="#000"/>
<text x="130.69 139.8 148.08" y="226.6" font-size="16.5" transform="scale(1.1 1)">210</text>
<text x="273.88 282.98 291.26" y="226.6" font-size="16.5" transform="scale(1.1 1)">210</text>
<line x1="202.5" y1="260.8" x2="278.2" y2="260.8" stroke="#000" stroke-width="1.2"/>
<polygon points="202.5,260.8 215.5,258.3 215.5,263.3" fill="#000"/>
<polygon points="278.2,260.8 265.2,263.3 265.2,258.3" fill="#000"/>
<text x="199.41 207.98 217.26 228.24" y="257.1" font-size="16.5" transform="scale(1.1 1)">ø152</text>
<line x1="191.5" y1="428.3" x2="289" y2="428.3" stroke="#000" stroke-width="1.2"/>
<polygon points="194.2,428.3 207.2,425.8 207.2,430.8" fill="#000"/>
<polygon points="286.5,428.3 273.5,430.8 273.5,425.8" fill="#000"/>
<text x="199.41 207.98 217.26 227.91" y="424.4" font-size="16.5" transform="scale(1.1 1)">ø186</text>
<line x1="125.8" y1="282.8" x2="125.8" y2="404.5" stroke="#000" stroke-width="1.2"/>
<polygon points="125.8,282.8 128.3,295.8 123.3,295.8" fill="#000"/>
<polygon points="125.8,404.5 123.3,391.5 128.3,391.5" fill="#000"/>
<text x="-328.49 -316.85 -306.82" y="0" font-size="16.5" transform="translate(122.3 0) rotate(-90) scale(1.1 1)">246</text>
<line x1="361.2" y1="105" x2="361.2" y2="291.3" stroke="#000" stroke-width="1.2"/>
<polygon points="361.2,105 363.7,118 358.7,118" fill="#000"/>
<polygon points="361.2,291.3 358.7,278.3 363.7,278.3" fill="#000"/>
<text x="-195.68 -184.58 -174.36" y="0" font-size="16.5" transform="translate(357.3 0) rotate(-90) scale(1.1 1)">376</text>
<line x1="383.6" y1="175.3" x2="383.6" y2="380" stroke="#000" stroke-width="1.2"/>
<polygon points="383.6,175.3 386.1,188.3 381.1,188.3" fill="#000"/>
<polygon points="383.6,380 381.1,367 386.1,367" fill="#000"/>
<text x="-266.12 -257.38 -248.67" y="0" font-size="16.5" transform="translate(379.9 0) rotate(-90) scale(1.1 1)">412</text>
<line x1="406.2" y1="105" x2="406.2" y2="404.5" stroke="#000" stroke-width="1.2"/>
<polygon points="406.2,105 408.7,118 403.7,118" fill="#000"/>
<polygon points="406.2,404.5 403.7,391.5 408.7,391.5" fill="#000"/>
<text x="-246.54 -236.02 -227" y="0" font-size="16.5" transform="translate(402.5 0) rotate(-90) scale(1.1 1)">606</text>
<path d="M470.4,166.5 L740.7,166.5 L742.2,188.5" fill="none" stroke="#000" stroke-width="1.2" stroke-linejoin="round" stroke-linecap="round" />
<path d="M742.2,288.3 L740.2,310 L471,310 Q470.5,310 470.3,308.5 L466.7,238.4 L470.4,166.5" fill="none" stroke="#000" stroke-width="1.2" stroke-linejoin="round" stroke-linecap="round" />
<line x1="470.6" y1="305" x2="740.4" y2="305" stroke="#000" stroke-width="1.2"/>
<line x1="470.4" y1="171.5" x2="740.9" y2="171.5" stroke="#000" stroke-width="1" stroke-dasharray="3.8 3.7"/>
<line x1="497.1" y1="166.5" x2="497.1" y2="305" stroke="#000" stroke-width="1.2"/>
<line x1="673.3" y1="166.5" x2="673.3" y2="181.9" stroke="#000" stroke-width="1.2"/>
<line x1="673.3" y1="294.9" x2="673.3" y2="305" stroke="#000" stroke-width="1.2"/>
<line x1="714.1" y1="166.5" x2="714.1" y2="305" stroke="#909090" stroke-width="0.9" stroke-dasharray="1.3 0.7"/>
<line x1="743" y1="189" x2="743" y2="288" stroke="#909090" stroke-width="0.8" stroke-dasharray="1.3 0.7"/>
<circle cx="665.4" cy="238.4" r="57.1" fill="none" stroke="#000" stroke-width="1.15"/>
<circle cx="665.4" cy="238.4" r="46.1" fill="none" stroke="#000" stroke-width="1.15"/>
<circle cx="665.4" cy="238.4" r="41.8" fill="none" stroke="#000" stroke-width="1.15"/>
<circle cx="665.4" cy="238.4" r="37.6" fill="none" stroke="#000" stroke-width="1.15"/>
<line x1="665.4" y1="192.4" x2="700" y2="192.4" stroke="#8a8a8a" stroke-width="1"/>
<line x1="700" y1="192.4" x2="740.5" y2="192.4" stroke="#000" stroke-width="1.2"/>
<line x1="692" y1="198.6" x2="719.8" y2="198.6" stroke="#8a8a8a" stroke-width="1"/>
<path d="M719.4,198.6 L721,190.8 Q721.4,188.2 722.2,188.2 Q723,188.2 723.4,190.8 L725.1,198.6 L729.3,198.6 L730.9,190.8 Q731.3,188.2 732.1,188.2 Q732.9,188.2 733.3,190.8 L735,198.6 L739.2,198.6 L740.9,190.8 Q741.3,188.2 742.1,188.2 Q742.9,188.2 743.3,190.8 L745,198.6 L749.2,198.6 L750.8,190.8 Q751.2,188.2 752,188.2 Q752.8,188.2 753.2,190.8 L754.9,198.6 L769.1,198.6" fill="none" stroke="#000" stroke-width="1.2" stroke-linejoin="round" stroke-linecap="round" />
<line x1="665.4" y1="284.4" x2="700" y2="284.4" stroke="#8a8a8a" stroke-width="1"/>
<line x1="700" y1="284.4" x2="740.5" y2="284.4" stroke="#000" stroke-width="1.2"/>
<line x1="692" y1="278.2" x2="702" y2="278.2" stroke="#8a8a8a" stroke-width="1"/>
<line x1="702" y1="278.2" x2="719.8" y2="278.2" stroke="#000" stroke-width="1.2"/>
<path d="M719.4,278.2 L721,286 Q721.4,288.6 722.2,288.6 Q723,288.6 723.4,286 L725.1,278.2 L729.3,278.2 L730.9,286 Q731.3,288.6 732.1,288.6 Q732.9,288.6 733.3,286 L735,278.2 L739.2,278.2 L740.9,286 Q741.3,288.6 742.1,288.6 Q742.9,288.6 743.3,286 L745,278.2 L749.2,278.2 L750.8,286 Q751.2,288.6 752,288.6 Q752.8,288.6 753.2,286 L754.9,278.2 L769.1,278.2" fill="none" stroke="#000" stroke-width="1.2" stroke-linejoin="round" stroke-linecap="round" />
<line x1="769.1" y1="198.6" x2="769.1" y2="278.2" stroke="#000" stroke-width="1.2"/>
<path d="M637.55,227.86 L662.8,223.43" fill="none" stroke="#000" stroke-width="1.2" stroke-linejoin="round" stroke-linecap="round" />
<path d="M637.55,248.94 L662.8,253.37" fill="none" stroke="#000" stroke-width="1.2" stroke-linejoin="round" stroke-linecap="round" />
<path d="M637.55,227.86 A10.7,10.7 0 0 0 637.55,248.94" fill="none" stroke="#000" stroke-width="1.2" stroke-linejoin="round" stroke-linecap="round" />
<path d="M662.8,223.43 A15.2,15.2 0 1 1 662.8,253.37" fill="none" stroke="#000" stroke-width="1.2" stroke-linejoin="round" stroke-linecap="round" />
<circle cx="665.4" cy="238.4" r="12.9" fill="none" stroke="#000" stroke-width="1.15"/>
<circle cx="639.4" cy="238.4" r="7.9" fill="none" stroke="#000" stroke-width="1.15"/>
<circle cx="665.4" cy="238.4" r="4.4" fill="none" stroke="#000" stroke-width="1.5"/>
<circle cx="665.4" cy="238.4" r="2.6" fill="none" stroke="#000" stroke-width="0.6"/>
<circle cx="639.4" cy="238.4" r="2.2" fill="#000" stroke="#000" stroke-width="0.8"/>
<line x1="639.4" y1="224.4" x2="639.4" y2="228.9" stroke="#000" stroke-width="1.2"/>
<line x1="639.4" y1="233.4" x2="639.4" y2="243.4" stroke="#000" stroke-width="1" stroke-dasharray="3 2"/>
<line x1="639.4" y1="247.9" x2="639.4" y2="252.4" stroke="#000" stroke-width="1.2"/>
<circle cx="727.75" cy="208.6" r="7.4" fill="none" stroke="#000" stroke-width="0.9"/>
<line x1="718.2" y1="208.6" x2="746.2" y2="208.6" stroke="#000" stroke-width="1" stroke-dasharray="3.6 3"/>
<line x1="727.75" y1="198.1" x2="727.75" y2="221.1" stroke="#000" stroke-width="1" stroke-dasharray="3.6 3"/>
<line x1="749.8" y1="208.6" x2="799" y2="208.6" stroke="#000" stroke-width="1.2"/>
<circle cx="727.75" cy="267.9" r="7.4" fill="none" stroke="#000" stroke-width="0.9"/>
<line x1="718.2" y1="267.9" x2="746.2" y2="267.9" stroke="#000" stroke-width="1" stroke-dasharray="3.6 3"/>
<line x1="727.75" y1="257.4" x2="727.75" y2="280.4" stroke="#000" stroke-width="1" stroke-dasharray="3.6 3"/>
<line x1="749.8" y1="267.9" x2="799" y2="267.9" stroke="#000" stroke-width="1.2"/>
<circle cx="482.8" cy="188.7" r="7.3" fill="none" stroke="#000" stroke-width="1.15"/>
<circle cx="482.8" cy="188.7" r="2.4" fill="#333" stroke="#000" stroke-width="0.9"/>
<line x1="463.5" y1="188.7" x2="499" y2="188.7" stroke="#000" stroke-width="1" stroke-dasharray="3.2 2.6"/>
<line x1="482.8" y1="176.7" x2="482.8" y2="201.2" stroke="#000" stroke-width="1" stroke-dasharray="3.2 2.6"/>
<line x1="447.7" y1="188.7" x2="463" y2="188.7" stroke="#000" stroke-width="1.2"/>
<circle cx="482.8" cy="287.8" r="7.3" fill="none" stroke="#000" stroke-width="1.15"/>
<circle cx="482.8" cy="287.8" r="2.4" fill="#333" stroke="#000" stroke-width="0.9"/>
<line x1="463.5" y1="287.8" x2="499" y2="287.8" stroke="#000" stroke-width="1" stroke-dasharray="3.2 2.6"/>
<line x1="482.8" y1="275.8" x2="482.8" y2="300.3" stroke="#000" stroke-width="1" stroke-dasharray="3.2 2.6"/>
<line x1="447.7" y1="287.8" x2="463" y2="287.8" stroke="#000" stroke-width="1.2"/>
<line x1="458.5" y1="238.4" x2="497" y2="238.4" stroke="#000" stroke-width="1" stroke-dasharray="4.2 3.4"/>
<line x1="497" y1="238.4" x2="608" y2="238.4" stroke="#000" stroke-width="1" stroke-dasharray="10 1.3"/>
<line x1="608" y1="238.4" x2="757" y2="238.4" stroke="#000" stroke-width="1" stroke-dasharray="4.2 3.4"/>
<line x1="665.4" y1="166.5" x2="665.4" y2="276" stroke="#000" stroke-width="1" stroke-dasharray="4.2 3.4"/>
<line x1="665.4" y1="125" x2="665.4" y2="162.5" stroke="#000" stroke-width="1.2"/>
<line x1="665.4" y1="279" x2="665.4" y2="337.5" stroke="#000" stroke-width="1.2"/>
<line x1="639.4" y1="257" x2="639.4" y2="337.5" stroke="#000" stroke-width="1.2"/>
<line x1="482.9" y1="125" x2="482.9" y2="167" stroke="#000" stroke-width="1.2"/>
<line x1="727.75" y1="125" x2="727.75" y2="198.3" stroke="#000" stroke-width="1.2"/>
<line x1="480" y1="131" x2="730.7" y2="131" stroke="#000" stroke-width="1.2"/>
<polygon points="482.9,131 495.9,128.5 495.9,133.5" fill="#000"/>
<polygon points="665.4,131 652.4,133.5 652.4,128.5" fill="#000"/>
<polygon points="665.4,131 678.4,128.5 678.4,133.5" fill="#000"/>
<polygon points="727.75,131 714.75,133.5 714.75,128.5" fill="#000"/>
<text x="506.41 516.91 527.36" y="127.5" font-size="16.5" transform="scale(1.1 1)">369</text>
<text x="617.08 626.33 637.18" y="127.4" font-size="16.5" transform="scale(1.1 1)">126</text>
<line x1="425.5" y1="171.5" x2="466.8" y2="171.5" stroke="#000" stroke-width="1.2"/>
<line x1="425.5" y1="310" x2="466.8" y2="310" stroke="#000" stroke-width="1.2"/>
<line x1="431.5" y1="171.5" x2="431.5" y2="310" stroke="#000" stroke-width="1.2"/>
<polygon points="431.5,171.5 434,184.5 429,184.5" fill="#000"/>
<polygon points="431.5,310 429,297 434,297" fill="#000"/>
<text x="-233.67 -223.74 -213.11" y="0" font-size="16.5" transform="translate(428 0) rotate(-90) scale(1.1 1)">280</text>
<line x1="453.5" y1="188.7" x2="453.5" y2="287.8" stroke="#000" stroke-width="1.2"/>
<polygon points="453.5,188.7 456,201.7 451,201.7" fill="#000"/>
<polygon points="453.5,287.8 451,274.8 456,274.8" fill="#000"/>
<text x="-231.21 -221.02 -211.83" y="0" font-size="16.5" transform="translate(449.7 0) rotate(-90) scale(1.1 1)">200</text>
<line x1="793" y1="208.6" x2="793" y2="267.9" stroke="#000" stroke-width="1.2"/>
<polygon points="793,208.6 795.5,221.6 790.5,221.6" fill="#000"/>
<polygon points="793,267.9 790.5,254.9 795.5,254.9" fill="#000"/>
<text x="-232.11 -222.76 -212.92" y="0" font-size="16.5" transform="translate(789.1 0) rotate(-90) scale(1.1 1)">120</text>
<line x1="744.2" y1="166.5" x2="820" y2="166.5" stroke="#000" stroke-width="1.2"/>
<line x1="744.2" y1="310" x2="820" y2="310" stroke="#000" stroke-width="1.2"/>
<line x1="814.3" y1="166.5" x2="814.3" y2="310" stroke="#000" stroke-width="1.2"/>
<polygon points="814.3,166.5 816.8,179.5 811.8,179.5" fill="#000"/>
<polygon points="814.3,310 811.8,297 816.8,297" fill="#000"/>
<text x="-231.67 -221.54 -211.11" y="0" font-size="16.5" transform="translate(810.3 0) rotate(-90) scale(1.1 1)">290</text>
<line x1="615" y1="332.3" x2="735.6" y2="332.3" stroke="#000" stroke-width="1.2"/>
<polygon points="639.4,332.3 626.4,334.8 626.4,329.8" fill="#000"/>
<polygon points="665.4,332.3 678.4,329.8 678.4,334.8" fill="#000"/>
<text x="629.35 639.97 651.06 656.62" y="326.6" font-size="16.5" transform="scale(1.1 1)">52,5</text>
<line x1="557" y1="271.3" x2="587" y2="271.3" stroke="#000" stroke-width="1.2"/>
<line x1="587" y1="271.3" x2="652.53" y2="230.16" stroke="#000" stroke-width="1.2"/>
<polygon points="637.37,239.68 628.43,248 625.98,244.11" fill="#000"/>
<polygon points="641.43,237.12 650.37,228.8 652.82,232.69" fill="#000"/>
<line x1="562.5" y1="293.3" x2="574.5" y2="293.3" stroke="#000" stroke-width="1.2"/>
<line x1="574.5" y1="293.3" x2="690.65" y2="223.15" stroke="#000" stroke-width="1.2"/>
<polygon points="661.29,240.88 652.21,249.05 649.83,245.12" fill="#000"/>
<polygon points="669.51,235.92 678.59,227.75 680.97,231.68" fill="#000"/>
<line x1="507.5" y1="154" x2="561.3" y2="154" stroke="#000" stroke-width="1.2"/>
<line x1="507.5" y1="154" x2="467.61" y2="210.04" stroke="#000" stroke-width="1.2"/>
<polygon points="484.31,186.58 489.68,175.06 493.43,177.73" fill="#000"/>
<polygon points="481.29,190.82 475.92,202.34 472.17,199.67" fill="#000"/>
<text y="149.9" font-size="17.2"><tspan x="509.8">4</tspan><tspan x="522.6" textLength="9.6" lengthAdjust="spacingAndGlyphs">-</tspan><tspan x="531.7 544.9 553.0">M10</tspan></text>
<text x="553.61 565.95 574.55" y="267.2" font-size="17.3">M10</text>
<text x="558.9" y="289.3" font-size="17.3">M</text>
<text x="575.58" y="106.6" font-size="16.2">A<tspan class="cjk" x="589.8" y="107.6" font-size="15.6">向</tspan></text>
<rect x="541.8" y="354.3" width="162.5" height="37.2" fill="none" stroke="#000" stroke-width="1.3"/>
<line x1="565" y1="354.3" x2="565" y2="391.5" stroke="#000" stroke-width="1.2"/>
<line x1="611.5" y1="354.3" x2="611.5" y2="391.5" stroke="#000" stroke-width="1.2"/>
<line x1="657.5" y1="354.3" x2="657.5" y2="391.5" stroke="#000" stroke-width="1.2"/>
<line x1="565" y1="373" x2="704.3" y2="373" stroke="#000" stroke-width="1.2"/>
<text x="544.33" y="380.3" font-size="21.8">M</text>
<text x="574.91 589.51" y="370.6" font-size="20.6">M1</text>
<text x="623.91 641.82" y="370.6" font-size="20.6">M2</text>
<text x="670.71 688.12" y="370.6" font-size="20.6">M3</text>
<text x="570.66 583.49 591.59" y="387.7" font-size="15.6">M10</text>
<text x="617.66 629.89 639.33" y="387.7" font-size="15.6">M16</text>
<text x="662.16 675.64 685.69" y="387.7" font-size="15.6">M20</text>
</svg>
</body>
</html>
